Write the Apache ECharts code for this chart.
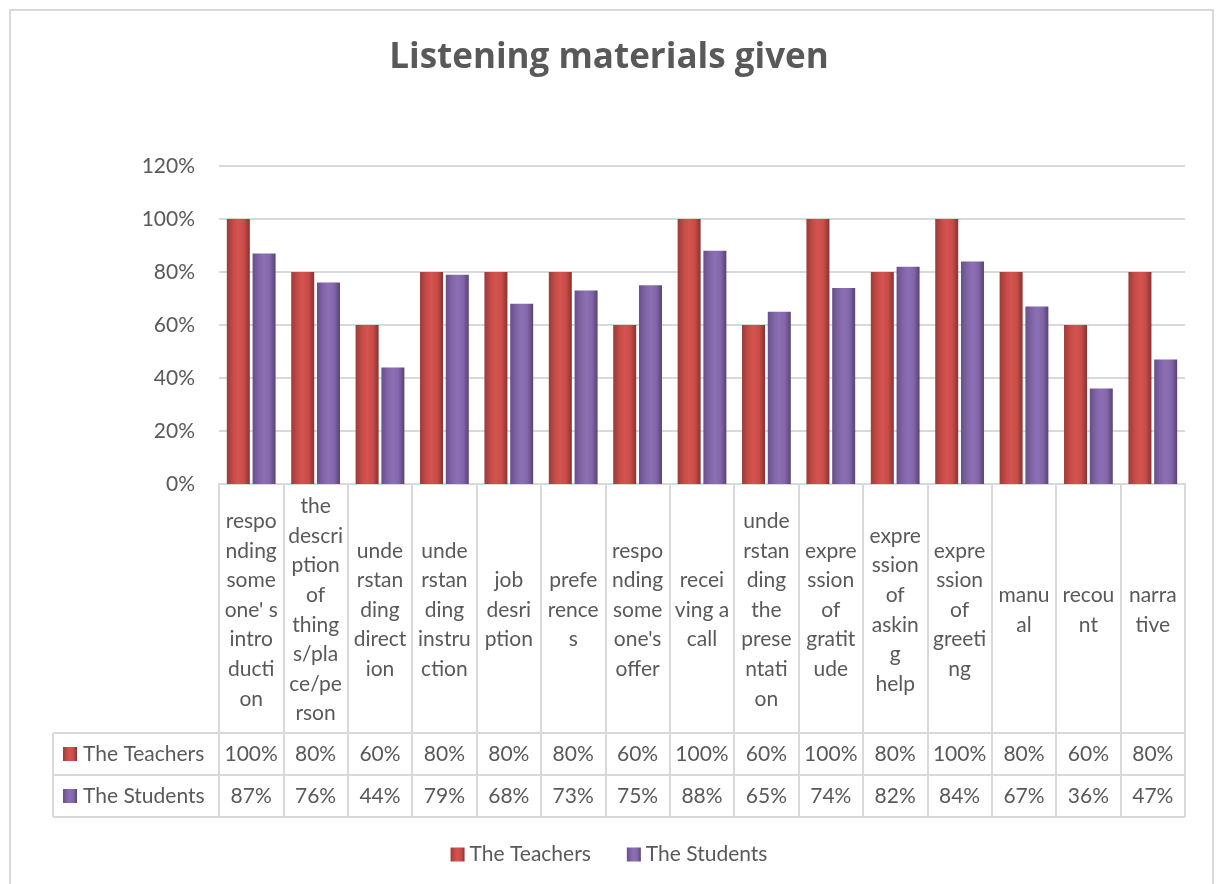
<!DOCTYPE html>
<html>
<head>
<meta charset="utf-8">
<title>Listening materials given</title>
<script src="https://cdn.jsdelivr.net/npm/echarts@6/dist/echarts.min.js"></script>
<style>
  html, body { margin: 0; padding: 0; background: #ffffff; }
  #chart { width: 1218px; height: 884px; }
</style>
</head>
<body>
<div id="chart"></div>
<script>
// Category labels, wrapped the way they appear inside the data-table cells
const categories = [
  "respo\nnding\nsome\none' s\nintro\nducti\non",
  "the\ndescri\nption\nof\nthing\ns/pla\nce/pe\nrson",
  "unde\nrstan\nding\ndirect\nion",
  "unde\nrstan\nding\ninstru\nction",
  "job\ndesri\nption",
  "prefe\nrence\ns",
  "respo\nnding\nsome\none's\noffer",
  "recei\nving a\ncall",
  "unde\nrstan\nding\nthe\nprese\nntati\non",
  "expre\nssion\nof\ngratit\nude",
  "expre\nssion\nof\naskin\ng\nhelp",
  "expre\nssion\nof\ngreeti\nng",
  "manu\nal",
  "recou\nnt",
  "narra\ntive"
];
const seriesNames = ["The Teachers", "The Students"];
const teachers = [100, 80, 60, 80, 80, 80, 60, 100, 60, 100, 80, 100, 80, 60, 80];
const students = [87, 76, 44, 79, 68, 73, 75, 88, 65, 74, 82, 84, 67, 36, 47];
const yTicks = { min: 0, max: 120, interval: 20 };

// Layout
const FONT = "Lato, 'Open Sans', sans-serif";
const TITLE_FONT = "'Open Sans', Lato, sans-serif";
const FS = 21;
const TEXT = "#595959";
const LINE = "#d9d9d9";
const GRID_LEFT = 219, GRID_RIGHT_X = 1185, GRID_TOP = 166, GRID_BOTTOM_Y = 484;
const LABEL_BOTTOM_Y = 733, ROW1_BOTTOM_Y = 775, ROW2_BOTTOM_Y = 817;
const TABLE_LEFT = 53;

function cylinder(edgeL, mid, centre, edgeR) {
  return new echarts.graphic.LinearGradient(0, 0, 1, 0, [
    { offset: 0, color: edgeL },
    { offset: 0.3, color: mid },
    { offset: 0.5, color: centre },
    { offset: 0.75, color: mid },
    { offset: 1, color: edgeR }
  ]);
}
const redFill = cylinder("#9a3c39", "#c94c48", "#d4544f", "#8a3230");
const purpleFill = cylinder("#66508a", "#8366aa", "#8c70b4", "#574373");

const pct = v => v + "%";
const rowAxis = (data, centreY) => ({
  type: "category",
  data: data.map(pct),
  position: "bottom",
  offset: centreY - GRID_BOTTOM_Y,
  axisLine: { show: false },
  axisTick: { show: false },
  axisLabel: {
    interval: 0, margin: 0, verticalAlign: "middle",
    color: TEXT, fontFamily: FONT, fontSize: FS
  }
});

const chart = echarts.init(document.getElementById("chart"), null, { renderer: "canvas" });

// Data-table frame and row headers
const rowKey = (label, fill, topY, bottomY) => {
  const cy = (topY + bottomY) / 2;
  return [
    { type: "rect", shape: { x: 63, y: cy - 7, width: 14, height: 14 }, style: { fill: fill } },
    { type: "text", x: 83, y: cy, style: { text: label, fill: TEXT, font: FS + "px " + FONT, textVerticalAlign: "middle" } }
  ];
};
const hLine = (x1, x2, y) => ({ type: "line", shape: { x1: x1, y1: y, x2: x2, y2: y }, style: { stroke: LINE, lineWidth: 2 } });
const vLine = (x, y1, y2) => ({ type: "line", shape: { x1: x, y1: y1, x2: x, y2: y2 }, style: { stroke: LINE, lineWidth: 2 } });

const option = {
  backgroundColor: "#ffffff",
  animation: false,
  title: {
    text: "Listening materials given",
    left: "center",
    top: 36,
    textStyle: { color: TEXT, fontFamily: TITLE_FONT, fontWeight: "bold", fontSize: 35 }
  },
  legend: {
    top: 839,
    left: "center",
    icon: "rect",
    itemWidth: 14,
    itemHeight: 14,
    itemGap: 36,
    textStyle: { color: TEXT, fontFamily: FONT, fontSize: FS },
    data: seriesNames
  },
  grid: {
    left: GRID_LEFT,
    right: 1218 - GRID_RIGHT_X,
    top: GRID_TOP,
    bottom: 884 - GRID_BOTTOM_Y,
    containLabel: false
  },
  xAxis: [
    {
      type: "category",
      data: categories,
      position: "bottom",
      axisLine: { show: true, lineStyle: { color: LINE, width: 2 } },
      axisTick: { show: true, interval: 0, length: ROW2_BOTTOM_Y - GRID_BOTTOM_Y, lineStyle: { color: LINE, width: 2 } },
      axisLabel: {
        interval: 0, margin: 126, verticalAlign: "middle", align: "center",
        color: TEXT, fontFamily: FONT, fontSize: FS, lineHeight: 29.6
      }
    },
    rowAxis(teachers, (LABEL_BOTTOM_Y + ROW1_BOTTOM_Y) / 2),
    rowAxis(students, (ROW1_BOTTOM_Y + ROW2_BOTTOM_Y) / 2)
  ],
  yAxis: {
    type: "value",
    min: yTicks.min,
    max: yTicks.max,
    interval: yTicks.interval,
    axisLine: { show: false },
    axisTick: { show: false },
    axisLabel: { formatter: "{value}%", margin: 24, color: TEXT, fontFamily: FONT, fontSize: FS },
    splitLine: { lineStyle: { color: LINE, width: 2 } }
  },
  series: [
    {
      name: seriesNames[0],
      type: "bar",
      data: teachers,
      barWidth: 23,
      barGap: "12%",
      itemStyle: { color: redFill }
    },
    {
      name: seriesNames[1],
      type: "bar",
      data: students,
      barWidth: 23,
      barGap: "12%",
      itemStyle: { color: purpleFill }
    }
  ],
  graphic: [
    { type: "rect", shape: { x: 10, y: 10, width: 1203, height: 900 }, style: { fill: null, stroke: LINE, lineWidth: 2 }, silent: true },
    hLine(TABLE_LEFT, GRID_RIGHT_X, LABEL_BOTTOM_Y),
    hLine(TABLE_LEFT, GRID_RIGHT_X, ROW1_BOTTOM_Y),
    hLine(TABLE_LEFT, GRID_RIGHT_X, ROW2_BOTTOM_Y),
    vLine(TABLE_LEFT, LABEL_BOTTOM_Y, ROW2_BOTTOM_Y),
    ...rowKey(seriesNames[0], redFill, LABEL_BOTTOM_Y, ROW1_BOTTOM_Y),
    ...rowKey(seriesNames[1], purpleFill, ROW1_BOTTOM_Y, ROW2_BOTTOM_Y)
  ]
};

chart.setOption(option);
</script>
</body>
</html>
